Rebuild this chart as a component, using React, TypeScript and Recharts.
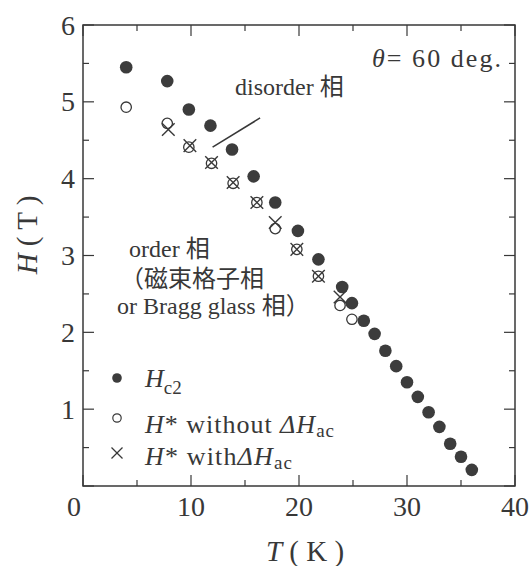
import React from 'react';
import { ScatterChart, Scatter, XAxis, YAxis, ReferenceArea, ReferenceLine } from 'recharts';

// H_c2 (filled circles)
const hc2T = [4, 7.8, 9.8, 11.8, 13.8, 15.8, 17.8, 19.9, 21.8, 24, 24.9, 26, 27, 28, 29, 30, 31, 32, 33, 34, 35, 36];
const hc2H = [5.45, 5.27, 4.9, 4.69, 4.38, 4.03, 3.69, 3.32, 2.95, 2.59, 2.38, 2.15, 1.98, 1.76, 1.56, 1.35, 1.16, 0.96, 0.77, 0.55, 0.38, 0.21];

// H* without ΔH_ac (open circles)
const openT = [4, 7.8, 9.8, 11.9, 13.9, 16.1, 17.8, 19.8, 21.8, 23.8, 24.9];
const openH = [4.93, 4.72, 4.41, 4.2, 3.94, 3.69, 3.35, 3.08, 2.73, 2.35, 2.17];

// H* with ΔH_ac (crosses)
const crossT = [7.9, 9.9, 11.9, 13.9, 16.1, 17.8, 19.8, 21.8, 23.8];
const crossH = [4.64, 4.43, 4.21, 3.95, 3.69, 3.43, 3.08, 2.73, 2.46];

const xTicks = [0, 5, 10, 15, 20, 25, 30, 35, 40];
const yTicks = [0, 0.5, 1, 1.5, 2, 2.5, 3, 3.5, 4, 4.5, 5, 5.5, 6];

// pointer line next to "disorder 相"
const pointerLine = [{ x: 12, y: 4.41 }, { x: 16.4, y: 4.79 }];

const toRows = (ts: number[], hs: number[]) => ts.map((T, i) => ({ T, H: hs[i] }));
const hc2 = toRows(hc2T, hc2H);
const open = toRows(openT, openH);
const cross = toRows(crossT, crossH);

const W = 529;
const HGT = 566;
const Y_AXIS_W = 40;
const X_AXIS_H = 30;
const M = { top: 25, right: 14, bottom: 80 - X_AXIS_H, left: 83 - Y_AXIS_W };
const SERIF = '"Liberation Serif", "Noto Sans CJK JP", serif';
const INK = '#383838';

function XTick({ x, y, payload }: any) {
  const v = payload.value;
  const major = v % 10 === 0;
  const len = major ? 11 : 6;
  return (
    <g>
      <line x1={x} y1={y} x2={x} y2={y - len} stroke={INK} strokeWidth={1.2} />
      <line x1={x} y1={M.top} x2={x} y2={M.top + len} stroke={INK} strokeWidth={1.2} />
      {major && (
        <text x={v === 0 ? x - 9 : x} y={y + 30} textAnchor="middle" fontFamily={SERIF} fontSize={28} fill={INK}>
          {v}
        </text>
      )}
    </g>
  );
}

function YTick({ x, y, payload }: any) {
  const v = payload.value;
  const major = Number.isInteger(v);
  const len = major ? 11 : 6;
  const right = W - M.right;
  return (
    <g>
      <line x1={x} y1={y} x2={x + len} y2={y} stroke={INK} strokeWidth={1.2} />
      <line x1={right} y1={y} x2={right - len} y2={y} stroke={INK} strokeWidth={1.2} />
      {major && v > 0 && (
        <text x={x - 8} y={y} textAnchor="end" dominantBaseline="central" fontFamily={SERIF} fontSize={28} fill={INK}>
          {v}
        </text>
      )}
    </g>
  );
}

const FilledDot = (p: any) => <circle cx={p.cx} cy={p.cy} r={6.3} fill="#3c3c3c" />;
const OpenDot = (p: any) => <circle cx={p.cx} cy={p.cy} r={5.2} fill="none" stroke={INK} strokeWidth={1.3} />;
const Cross = (p: any) => {
  const s = 6.3;
  return (
    <g stroke={INK} strokeWidth={1.4}>
      <line x1={p.cx - s} y1={p.cy - s} x2={p.cx + s} y2={p.cy + s} />
      <line x1={p.cx - s} y1={p.cy + s} x2={p.cx + s} y2={p.cy - s} />
    </g>
  );
};

function Overlay() {
  const t = { fontFamily: SERIF, fill: INK };
  return (
    <svg width={W} height={HGT} style={{ position: 'absolute', left: 0, top: 0, pointerEvents: 'none' }}>
      <text x={372} y={67} fontSize={26} textLength={129} lengthAdjust="spacing" {...t}>
        <tspan fontStyle="italic">θ</tspan>= 60 deg.
      </text>
      <text x={235} y={95} fontSize={24} {...t}>disorder 相</text>
      <text x={129} y={257} fontSize={24} {...t}>order 相</text>
      <text x={120} y={287} fontSize={24} {...t}>（磁束格子相</text>
      <text x={117} y={314} fontSize={24} {...t}>or Bragg glass 相）</text>

      {/* legend */}
      <circle cx={117} cy={378} r={4.8} fill="#3c3c3c" />
      <text x={145} y={387} fontSize={26} {...t}>
        <tspan fontStyle="italic">H</tspan>
        <tspan fontSize={19} dy={7}>c2</tspan>
      </text>
      <circle cx={117} cy={418} r={4.2} fill="none" stroke={INK} strokeWidth={1.2} />
      <text x={145} y={433} fontSize={26} textLength={189} lengthAdjust="spacing" {...t}>
        <tspan fontStyle="italic">H</tspan>* without <tspan fontStyle="italic">ΔH</tspan>
        <tspan fontSize={19} dy={4}>ac</tspan>
      </text>
      <g stroke={INK} strokeWidth={1.3}>
        <line x1={111.5} y1={447.5} x2={122.5} y2={458.5} />
        <line x1={111.5} y1={458.5} x2={122.5} y2={447.5} />
      </g>
      <text x={145} y={465} fontSize={26} textLength={147} lengthAdjust="spacing" {...t}>
        <tspan fontStyle="italic">H</tspan>* with<tspan fontStyle="italic">ΔH</tspan>
        <tspan fontSize={19} dy={4}>ac</tspan>
      </text>

      {/* axis titles */}
      <text x={305} y={561} textAnchor="middle" fontSize={29} {...t}>
        <tspan fontStyle="italic">T</tspan> ( K )
      </text>
      <text x={0} y={0} transform="translate(37,235) rotate(-90)" textAnchor="middle" fontSize={29} {...t}>
        <tspan fontStyle="italic">H</tspan> ( T )
      </text>
    </svg>
  );
}

export default function App() {
  return (
    <div style={{ position: 'absolute', left: 0, top: 0, width: W, height: HGT, background: '#fff' }}>
      <ScatterChart width={W} height={HGT} margin={M}>
        <XAxis
          type="number"
          dataKey="T"
          domain={[0, 40]}
          ticks={xTicks}
          interval={0}
          height={X_AXIS_H}
          tickSize={0}
          tickMargin={0}
          axisLine={false}
          tickLine={false}
          tick={<XTick />}
        />
        <YAxis
          type="number"
          dataKey="H"
          domain={[0, 6]}
          ticks={yTicks}
          interval={0}
          width={Y_AXIS_W}
          tickSize={0}
          tickMargin={0}
          axisLine={false}
          tickLine={false}
          tick={<YTick />}
        />
        <ReferenceArea x1={0} x2={40} y1={0} y2={6} fill="none" stroke={INK} strokeWidth={1.5} fillOpacity={0} />
        <ReferenceLine segment={pointerLine} stroke={INK} strokeWidth={1.5} />
        <Scatter data={hc2} shape={FilledDot} isAnimationActive={false} />
        <Scatter data={open} shape={OpenDot} isAnimationActive={false} />
        <Scatter data={cross} shape={Cross} isAnimationActive={false} />
      </ScatterChart>
      <Overlay />
    </div>
  );
}
